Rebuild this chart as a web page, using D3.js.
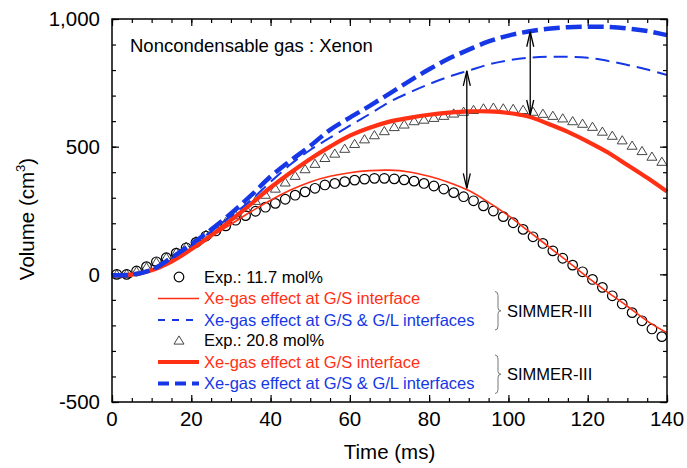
<!DOCTYPE html>
<html>
<head>
<meta charset="utf-8">
<script src="https://cdn.jsdelivr.net/npm/d3@7"></script>
<style>
  html, body { margin: 0; padding: 0; background: #fff; }
  svg { display: block; font-family: "Liberation Sans", Arial, sans-serif; }
</style>
</head>
<body>
<svg id="chart" width="687" height="468"></svg>
<script>
// ---------------- data ----------------
const expTime = [1.2, 3.7, 6.2, 8.7, 11.2, 13.7, 16.2, 18.7, 21.2, 23.7, 26.2, 28.7, 31.2, 33.7, 36.2, 38.7,
  41.2, 43.7, 46.2, 48.7, 51.2, 53.7, 56.2, 58.7, 61.2, 63.7, 66.2, 68.7, 71.2, 73.7, 76.2, 78.7,
  81.2, 83.7, 86.2, 88.7, 91.2, 93.7, 96.2, 98.7, 101.2, 103.7, 106.2, 108.7, 111.2, 113.7, 116.2, 118.7,
  121.2, 123.7, 126.2, 128.7, 131.2, 133.7, 136.2, 138.7];
const exp117 = [0, 0, 13, 30, 49, 65, 83, 104, 125, 150, 170, 190, 212, 230, 247, 263,
  278, 294, 310, 323, 337, 350, 356, 363, 369, 373, 376, 376, 374, 370, 365, 356,
  346, 334, 320, 304, 288, 268, 248, 226, 202, 176, 147, 121, 92, 63, 36, 10,
  -20, -51, -84, -116, -150, -182, -214, -244];
const exp208 = [0, 2, 12, 28, 48, 66, 86, 108, 130, 155, 180, 205, 232, 260, 288, 312,
  336, 360, 386, 412, 433, 456, 473, 492, 511, 529, 545, 561, 577, 587, 600, 606,
  613, 621, 630, 637, 644, 650, 653, 650, 648, 644, 637, 629, 621, 611, 600, 590,
  578, 559, 543, 525, 504, 483, 461, 441];

const simTime = [0, 5, 10, 15, 20, 25, 30, 35, 40, 45, 50, 55, 60, 65, 70, 75, 80, 85, 90, 95,
  100, 105, 110, 115, 120, 125, 130, 135, 140];
const sim117GS = [-4, -1, 16, 50, 98, 148, 196, 245, 290, 330, 362, 384, 398, 406, 408, 401, 384, 360, 328, 282,
  230, 170, 110, 50, -12, -70, -125, -183, -229];
const sim117GSGL = [-4, -1, 18, 62, 112, 168, 228, 290, 362, 430, 487, 535, 582, 628, 675, 712, 745, 774, 798, 822,
  838, 848, 852, 852, 848, 836, 820, 802, 781];
const sim208GS = [-4, -1, 16, 50, 98, 152, 212, 275, 340, 398, 452, 500, 543, 574, 598, 613, 625, 633, 638, 638,
  632, 618, 590, 558, 520, 478, 428, 378, 324];
const sim208GSGL = [-4, -1, 18, 65, 118, 175, 238, 308, 383, 445, 503, 566, 614, 660, 708, 757, 803, 845, 880, 912,
  935, 951, 962, 968, 970, 969, 963, 953, 937];

const arrowTime = [89.5, 105.5];
const arrowFrom = [337, 624];
const arrowTo = [797, 950];

const xTicks = [0, 20, 40, 60, 80, 100, 120, 140];
const yTicks = [-500, 0, 500, 1000];
const legendLabels = ["Exp.: 11.7 mol%", "Xe-gas effect at G/S interface", "Xe-gas effect at G/S & G/L interfaces",
  "Exp.: 20.8 mol%", "Xe-gas effect at G/S interface", "Xe-gas effect at G/S & G/L interfaces"];
const groupLabel = "SIMMER-III";
const titleText = "Noncondensable gas : Xenon";

// ---------------- drawing ----------------
const RED = "#ff3014", BLUE = "#1637e6";
const svg = d3.select("#chart");
const L = 112, R = 667, T = 19, B = 402;
const x = d3.scaleLinear().domain([0, 140]).range([L, R]);
const y = d3.scaleLinear().domain([-500, 1000]).range([B, T]);

// axes (inward ticks)
function minorTicks(step, lo, hi) { const a = []; for (let v = lo; v <= hi + 1e-9; v += step) a.push(v); return a; }
const xMinor = minorTicks(5, 0, 140), yMinor = minorTicks(100, -500, 1000);
const axG = svg.append("g");
function styleAxis(g) { g.select(".domain").remove(); g.selectAll("line").attr("stroke", "#000").attr("stroke-width", 1.2); }
axG.append("g").attr("transform", `translate(0,${B})`).call(d3.axisBottom(x).tickValues(xMinor).tickSize(-4).tickFormat("")).call(styleAxis);
axG.append("g").attr("transform", `translate(0,${B})`).call(d3.axisBottom(x).tickValues(xTicks).tickSize(-7).tickFormat("")).call(styleAxis);
axG.append("g").attr("transform", `translate(0,${T})`).call(d3.axisTop(x).tickValues(xMinor).tickSize(-4).tickFormat("")).call(styleAxis);
axG.append("g").attr("transform", `translate(0,${T})`).call(d3.axisTop(x).tickValues(xTicks).tickSize(-7).tickFormat("")).call(styleAxis);
axG.append("g").attr("transform", `translate(${L},0)`).call(d3.axisLeft(y).tickValues(yMinor).tickSize(-4).tickFormat("")).call(styleAxis);
axG.append("g").attr("transform", `translate(${L},0)`).call(d3.axisLeft(y).tickValues(yTicks).tickSize(-7).tickFormat("")).call(styleAxis);
axG.append("g").attr("transform", `translate(${R},0)`).call(d3.axisRight(y).tickValues(yMinor).tickSize(-4).tickFormat("")).call(styleAxis);
axG.append("g").attr("transform", `translate(${R},0)`).call(d3.axisRight(y).tickValues(yTicks).tickSize(-7).tickFormat("")).call(styleAxis);

// tick labels
const fmt = d3.formatLocale({ decimal: ".", thousands: ",", grouping: [3], currency: ["", ""], minus: "-" }).format(",");
svg.append("g").selectAll("text").data(xTicks).join("text")
  .attr("x", d => x(d)).attr("y", 426).attr("text-anchor", "middle")
  .attr("font-size", 20.5).attr("fill", "#000").text(d => d);
svg.append("g").selectAll("text").data(yTicks).join("text")
  .attr("x", 100).attr("y", d => y(d)).attr("dy", "0.36em").attr("text-anchor", "end")
  .attr("font-size", 20.5).attr("fill", "#000").text(d => fmt(d));

// axis titles
svg.append("text").attr("x", (L + R) / 2).attr("y", 459).attr("text-anchor", "middle")
  .attr("font-size", 20.5).text("Time (ms)");
const yl = svg.append("text").attr("transform", "translate(34,219) rotate(-90)").attr("text-anchor", "middle")
  .attr("font-size", 20.5);
yl.append("tspan").text("Volume (cm");
yl.append("tspan").attr("font-size", 13).attr("dy", -9).text("3");
yl.append("tspan").attr("dy", 9).text(")");

// title
svg.append("text").attr("x", 130).attr("y", 52).attr("font-size", 18.5).text(titleText);

// markers
const triPath = "M-5,3.6L5,3.6L0,-4.6Z";
svg.append("g").selectAll("path").data(expTime.map((t, i) => [t, exp208[i]])).join("path")
  .attr("d", triPath).attr("transform", d => `translate(${x(d[0])},${y(d[1])})`)
  .attr("fill", "none").attr("stroke", "#444").attr("stroke-width", 1);
svg.append("g").selectAll("circle").data(expTime.map((t, i) => [t, exp117[i]])).join("circle")
  .attr("cx", d => x(d[0])).attr("cy", d => y(d[1])).attr("r", 4.8)
  .attr("fill", "none").attr("stroke", "#000").attr("stroke-width", 1.2);

// simulation lines
const line = d3.line().x(d => x(d[0])).y(d => y(d[1])).curve(d3.curveCatmullRom);
const series = [
  { v: sim117GS, color: RED, w: 1.6, dash: null },
  { v: sim208GS, color: RED, w: 4.2, dash: null },
  { v: sim117GSGL, color: BLUE, w: 2, dash: "14,7" },
  { v: sim208GSGL, color: BLUE, w: 4.5, dash: "16,6" }
];
svg.append("g").selectAll("path").data(series).join("path")
  .attr("d", s => line(simTime.map((t, i) => [t, s.v[i]])))
  .attr("fill", "none").attr("stroke", s => s.color).attr("stroke-width", s => s.w)
  .attr("stroke-dasharray", s => s.dash);

// arrows
const arrG = svg.append("g").attr("stroke", "#000").attr("stroke-width", 1.3).attr("fill", "none");
arrowTime.forEach((t, i) => {
  const ax = x(t), yb = y(arrowFrom[i]), yt = y(arrowTo[i]);
  arrG.append("line").attr("x1", ax).attr("x2", ax).attr("y1", yb).attr("y2", yt);
  arrG.append("path").attr("d", `M${ax - 3.5},${yt + 15}L${ax},${yt}L${ax + 3.5},${yt + 15}`);
  arrG.append("path").attr("d", `M${ax - 3.5},${yb - 15}L${ax},${yb}L${ax + 3.5},${yb - 15}`);
});

// legend
const legY = [277, 298.5, 320, 340.5, 362, 383.5];
const legColor = ["#000", RED, BLUE, "#000", RED, BLUE];
const legG = svg.append("g");
legG.selectAll("text").data(legendLabels).join("text")
  .attr("x", 204).attr("y", (d, i) => legY[i]).attr("dy", "0.35em")
  .attr("font-size", 16.5).attr("fill", (d, i) => legColor[i]).text(d => d);
legG.append("circle").attr("cx", 179).attr("cy", legY[0]).attr("r", 4.8)
  .attr("fill", "none").attr("stroke", "#000").attr("stroke-width", 1.2);
legG.append("path").attr("d", triPath).attr("transform", `translate(179,${legY[3]})`)
  .attr("fill", "none").attr("stroke", "#444").attr("stroke-width", 1);
const legLines = [
  { i: 1, color: RED, w: 1.6, dash: null },
  { i: 2, color: BLUE, w: 2, dash: "7,7" },
  { i: 4, color: RED, w: 4, dash: null },
  { i: 5, color: BLUE, w: 4, dash: "11,6" }
];
legG.selectAll("line").data(legLines).join("line")
  .attr("x1", 158).attr("x2", 199).attr("y1", d => legY[d.i]).attr("y2", d => legY[d.i])
  .attr("stroke", d => d.color).attr("stroke-width", d => d.w).attr("stroke-dasharray", d => d.dash);

// braces + group labels
[[legY[1], legY[2]], [legY[4], legY[5]]].forEach(([a, b]) => {
  const y0 = a - 7, y1 = b + 10, ym = (y0 + y1) / 2, bx = 495;
  legG.append("path")
    .attr("d", `M${bx},${y0} q3,0 3,4 L${bx + 3},${ym - 3} q0,3 3,3 q-3,0 -3,3 L${bx + 3},${y1 - 4} q0,4 -3,4`)
    .attr("fill", "none").attr("stroke", "#777").attr("stroke-width", 1);
  legG.append("text").attr("x", 507).attr("y", ym).attr("dy", "0.35em").attr("font-size", 16.5).text(groupLabel);
});

// frame
svg.append("rect").attr("x", L).attr("y", T).attr("width", R - L).attr("height", B - T)
  .attr("fill", "none").attr("stroke", "#000").attr("stroke-width", 1.5);
</script>
</body>
</html>
